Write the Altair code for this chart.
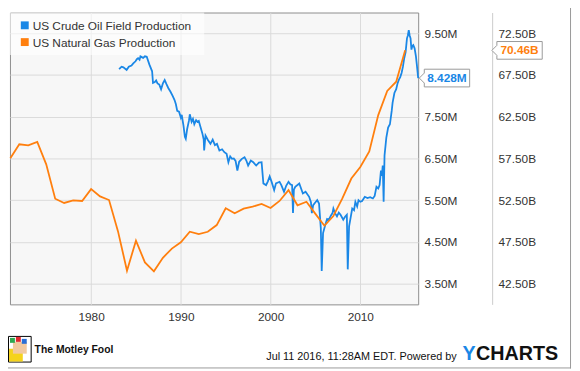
import altair as alt
import pandas as pd

# ---------------- data ----------------
oil_t = [1983.12, 1983.4, 1983.6, 1983.96, 1984.2, 1984.5, 1984.7, 1984.95, 1985.1, 1985.24,
         1985.4, 1985.5, 1985.65, 1985.8, 1986.0, 1986.2, 1986.5, 1986.8, 1986.9, 1987.1,
         1987.25, 1987.4, 1987.6, 1987.8, 1988.0, 1988.2, 1988.4, 1988.6, 1988.85, 1989.1,
         1989.3, 1989.45, 1989.6, 1989.8, 1990.0, 1990.1, 1990.3, 1990.45, 1990.55, 1990.7,
         1990.9, 1991.0, 1991.2, 1991.35, 1991.5, 1991.7, 1991.85, 1992.0, 1992.2, 1992.4,
         1992.55, 1992.6, 1992.75, 1993.0, 1993.3, 1993.55, 1993.8, 1994.03, 1994.3, 1994.6,
         1994.85, 1995.1, 1995.3, 1995.5, 1995.7, 1995.9, 1996.1, 1996.3, 1996.5, 1996.8,
         1997.1, 1997.3, 1997.5, 1997.8, 1998.07, 1998.4, 1998.7, 1999.0, 1999.2, 1999.5,
         1999.7, 1999.9, 2000.1, 2000.4, 2000.6, 2001.0, 2001.2, 2001.5, 2001.75, 2002.0,
         2002.2, 2002.4, 2002.5, 2002.6, 2002.75, 2003.2, 2003.4, 2003.6, 2003.9, 2004.3,
         2004.5, 2004.6, 2004.75, 2005.0, 2005.2, 2005.4, 2005.6, 2005.7, 2005.85, 2006.1,
         2006.3, 2006.5, 2006.7, 2006.9, 2007.0, 2007.2, 2007.4, 2007.6, 2007.8, 2008.1,
         2008.3, 2008.5, 2008.6, 2008.75, 2009.1, 2009.3, 2009.45, 2009.65, 2009.8, 2010.0,
         2010.2, 2010.5, 2010.8, 2011.1, 2011.4, 2011.6, 2011.8, 2012.0, 2012.15, 2012.3,
         2012.4, 2012.5, 2012.6, 2012.7, 2012.9, 2013.1, 2013.3, 2013.5, 2013.6, 2013.8,
         2014.0, 2014.15, 2014.3, 2014.45, 2014.6, 2014.75, 2014.9, 2015.05, 2015.2, 2015.3,
         2015.4, 2015.5, 2015.6, 2015.7, 2015.8, 2015.9, 2016.05, 2016.2, 2016.3, 2016.45]
oil_v = [8.64, 8.70, 8.685, 8.62, 8.70, 8.73, 8.78, 8.83, 8.88, 8.906,
         8.87, 8.95, 8.93, 8.91, 8.95, 8.94, 8.75, 8.59, 8.31, 8.33,
         8.37, 8.30, 8.27, 8.16, 8.30, 8.38, 8.28, 8.19, 8.10, 7.996,
         7.90, 7.80, 7.64, 7.62, 7.48, 7.545, 7.28, 7.02, 6.97, 7.20,
         7.40, 7.56, 7.38, 7.45, 7.32, 7.42, 7.38, 7.40, 7.25, 7.10,
         6.95, 6.69, 7.05, 6.95, 6.85, 6.95, 6.82, 6.85, 6.69, 6.72,
         6.65, 6.61, 6.41, 6.55, 6.49, 6.50, 6.44, 6.21, 6.42, 6.49,
         6.53, 6.45, 6.33, 6.45, 6.41, 6.33, 6.40, 6.41, 5.90, 5.86,
         5.95, 6.07, 5.95, 5.74, 5.90, 5.94, 5.86, 5.70, 5.85, 5.94,
         5.88, 5.86, 5.19, 5.75, 5.82, 5.90, 5.78, 5.66, 5.70, 5.58,
         5.45, 5.19, 5.38, 5.45, 5.50, 5.42, 4.83, 3.80, 4.71, 4.91,
         5.05, 5.03, 5.12, 5.19, 5.30, 5.18, 5.11, 5.20, 5.15, 5.03,
         5.10, 5.15, 3.84, 4.87, 5.30, 5.26, 5.46, 5.35, 5.50, 5.46,
         5.48, 5.58, 5.55, 5.57, 5.54, 5.60, 5.82, 5.78, 5.86, 6.21,
         6.08, 6.33, 5.46, 6.57, 7.00, 7.24, 7.32, 7.64, 7.84, 8.07,
         8.16, 8.30, 8.39, 8.45, 8.55, 8.70, 8.91, 9.05, 9.38, 9.45,
         9.58, 9.45, 9.38, 9.11, 9.20, 9.22, 9.14, 8.95, 8.75, 8.428]

gas_year = list(range(1971, 2016))
gas_v = [57.53, 59.20, 59.08, 59.48, 56.79, 52.67, 52.16, 52.48, 52.40, 53.82,
         52.95, 52.51, 48.75, 44.04, 47.64, 45.03, 43.96, 45.59, 46.69, 47.44,
         48.71, 48.44, 48.71, 49.51, 51.53, 50.93, 51.48, 51.72, 52.04, 51.56,
         52.40, 53.70, 51.88, 52.31, 50.85, 49.43, 50.60, 52.70, 55.09, 56.47,
         58.33, 62.70, 65.60, 66.70, 70.46]

series_names = ["US Crude Oil Field Production", "US Natural Gas Production"]
series_colors = ["#1a87e6", "#ff7f0e"]
oil_last_label = "8.428M"
gas_last_label = "70.46B"

x_ticks = [1980, 1990, 2000, 2010]
oil_ticks = [3.5, 4.5, 5.5, 6.5, 7.5, 8.5, 9.5]
gas_ticks = [42.5, 47.5, 52.5, 57.5, 62.5, 67.5, 72.5]

footer_date = "Jul 11 2016, 11:28AM EDT.  Powered by"
brand_left = "The Motley Fool"

# ---------------- styling / layout ----------------
W, H = 414, 296
FONT = "Liberation Sans"
GRID = "#dadada"
LABEL = "#333333"

color_scale = alt.Scale(domain=series_names, range=series_colors)
xscale = alt.Scale(domain=[1970.96, 2016.45], nice=False, zero=False)
oil_scale = alt.Scale(domain=[3, 10], nice=False, zero=False)
gas_scale = alt.Scale(domain=[40, 75], nice=False, zero=False)

oil_df = pd.DataFrame({"t": oil_t, "v": oil_v, "s": series_names[0]})
gas_df = pd.DataFrame({"t": gas_year, "v": gas_v, "s": series_names[1]})

x_axis = alt.Axis(values=x_ticks, labelExpr="datum.value", grid=True, gridColor=GRID,
                  domain=False, ticks=False, tickSize=0, labelPadding=7, labelFontSize=12,
                  labelFont=FONT, labelColor=LABEL, title=None)
oil_axis = alt.Axis(orient="right", values=oil_ticks,
                    labelExpr="datum.value == 8.5 ? '' : format(datum.value, '.2f') + 'M'",
                    grid=True, gridColor=GRID, domain=False, ticks=False, tickSize=0,
                    labelPadding=6, labelFontSize=12, labelFont=FONT, labelColor=LABEL,
                    labelAlign="left", title=None)
gas_axis = alt.Axis(orient="right", offset=75, values=gas_ticks,
                    labelExpr="format(datum.value, '.2f') + 'B'",
                    grid=False, domain=True, domainColor="#cccccc", ticks=False, tickSize=0,
                    labelPadding=6, labelFontSize=12, labelFont=FONT, labelColor=LABEL,
                    labelAlign="left", title=None)

x_enc = alt.X("t:Q", scale=xscale, axis=x_axis)
col_enc = alt.Color("s:N", scale=color_scale, legend=None)

tag_path = "M-1.22,0L-1,-0.22L-1,-0.39L1,-0.39L1,0.39L-1,0.39L-1,0.22Z"

oil_line = alt.Chart(oil_df).mark_line(strokeWidth=1.8).encode(
    x=x_enc, y=alt.Y("v:Q", scale=oil_scale, axis=oil_axis), color=col_enc)
oil_tag_df = pd.DataFrame({"v": [oil_v[-1]], "label": [oil_last_label]})
oil_box = alt.Chart(oil_tag_df).mark_point(
    shape=tag_path, size=2116, filled=True, fill="white", stroke="#999999",
    strokeWidth=1, opacity=1).encode(
    x=alt.value(443.2), y=alt.Y("v:Q", scale=oil_scale, axis=oil_axis))
oil_text = alt.Chart(oil_tag_df).mark_text(
    font=FONT, fontSize=12, fontWeight="bold", color=series_colors[0],
    align="center", baseline="middle").encode(
    x=alt.value(443.2), y=alt.Y("v:Q", scale=oil_scale, axis=oil_axis), text="label:N")
oil_layer = alt.layer(oil_line, oil_box, oil_text)

gas_line = alt.Chart(gas_df).mark_line(strokeWidth=1.8).encode(
    x=x_enc, y=alt.Y("v:Q", scale=gas_scale, axis=gas_axis), color=col_enc)
gas_tag_df = pd.DataFrame({"v": [gas_v[-1]], "label": [gas_last_label]})
gas_box = alt.Chart(gas_tag_df).mark_point(
    shape=tag_path, size=2116, filled=True, fill="white", stroke="#999999",
    strokeWidth=1, opacity=1).encode(
    x=alt.value(516.8), y=alt.Y("v:Q", scale=gas_scale, axis=gas_axis))
gas_text = alt.Chart(gas_tag_df).mark_text(
    font=FONT, fontSize=12, fontWeight="bold", color=series_colors[1],
    align="center", baseline="middle").encode(
    x=alt.value(516.8), y=alt.Y("v:Q", scale=gas_scale, axis=gas_axis), text="label:N")
gas_layer = alt.layer(gas_line, gas_box, gas_text)

one = pd.DataFrame({"a": [0]})

# legend (manual, top-left inside plot)
legend_parts = [alt.Chart(one).mark_rect(fill="white", opacity=0.6).encode(
    x=alt.value(0), x2=alt.value(197), y=alt.value(0), y2=alt.value(43))]
for i, name in enumerate(series_names):
    legend_parts.append(alt.Chart(one).mark_square(size=64, opacity=1, color=series_colors[i]).encode(
        x=alt.value(15), y=alt.value(13 + 17 * i)))
    legend_parts.append(alt.Chart(one).mark_text(
        font=FONT, fontSize=12, color=LABEL, align="left", baseline="middle").encode(
        x=alt.value(23), y=alt.value(13.5 + 17 * i), text=alt.value(name)))

# footer
footer = [
    alt.Chart(one).mark_rect(fill="white", stroke="#000000", strokeWidth=1).encode(
        x=alt.value(-1.5), x2=alt.value(21.5), y=alt.value(328.5), y2=alt.value(354.5)),
    alt.Chart(one).mark_rect(fill="#f5d31c").encode(
        x=alt.value(-1), x2=alt.value(13), y=alt.value(341), y2=alt.value(354)),
    alt.Chart(one).mark_rect(fill="#f2c9a0").encode(
        x=alt.value(3), x2=alt.value(17), y=alt.value(334), y2=alt.value(346)),
    alt.Chart(one).mark_rect(fill="#2fa84f").encode(
        x=alt.value(0), x2=alt.value(5), y=alt.value(330), y2=alt.value(335)),
    alt.Chart(one).mark_rect(fill="#e0282e").encode(
        x=alt.value(6), x2=alt.value(11), y=alt.value(329), y2=alt.value(334)),
    alt.Chart(one).mark_rect(fill="#2a6fd6").encode(
        x=alt.value(12), x2=alt.value(17), y=alt.value(331), y2=alt.value(336)),
    alt.Chart(one).mark_text(font=FONT, fontSize=10.5, fontWeight="bold", color="#111111",
                             align="left", baseline="middle").encode(
        x=alt.value(25), y=alt.value(342), text=alt.value(brand_left)),
    alt.Chart(one).mark_text(font=FONT, fontSize=11, color="#111111",
                             align="right", baseline="alphabetic").encode(
        x=alt.value(453), y=alt.value(352.5), text=alt.value(footer_date)),
    alt.Chart(one).mark_text(font=FONT, fontSize=20, fontWeight="bold", color="#1a87e6",
                             align="left", baseline="alphabetic").encode(
        x=alt.value(459), y=alt.value(352), text=alt.value("Y")),
    alt.Chart(one).mark_text(font=FONT, fontSize=20, fontWeight="bold", color="#111111",
                             align="left", baseline="alphabetic").encode(
        x=alt.value(472.6), y=alt.value(352), text=alt.value("CHARTS")),
    alt.Chart(one).mark_rule(color="#999999", strokeWidth=1).encode(
        x=alt.value(568.5), y=alt.value(-10), y2=alt.value(361)),
    alt.Chart(one).mark_rule(color="#999999", strokeWidth=1).encode(
        x=alt.value(-10), x2=alt.value(569), y=alt.value(360.5)),
]

chart = alt.layer(oil_layer, gas_layer, *legend_parts, *footer).resolve_scale(
    y="independent"
).properties(
    width=W, height=H,
    autosize=alt.AutoSizeParams(type="none"),
    padding={"left": 2, "top": 2, "right": 156, "bottom": 65},
    background="white",
).configure_view(fill="#f7f7f7", stroke="#8c8c8c", strokeWidth=1)

chart.save("out.html", embed_options={"renderer": "svg", "actions": False})
